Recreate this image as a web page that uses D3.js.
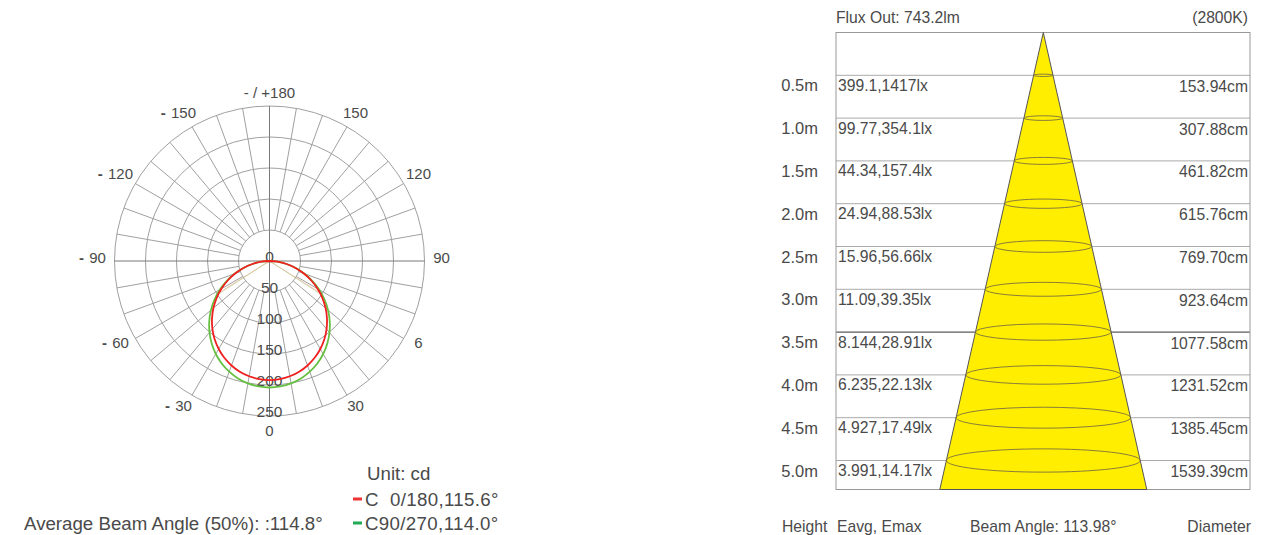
<!DOCTYPE html>
<html>
<head>
<meta charset="utf-8">
<script src="https://cdn.jsdelivr.net/npm/d3@7"></script>
<style>
  html, body { margin: 0; padding: 0; background: #fff; }
  svg { display: block; font-family: "Liberation Sans", Arial, Helvetica, sans-serif; }
  .pre { white-space: pre; }
</style>
</head>
<body>
<svg id="chart" width="1282" height="535"></svg>
<script>
// ---- Polar intensity data (cd), symmetric about 0° ----
const polarAngles = [0, 5, 10, 15, 20, 25, 30, 35, 40, 45, 50, 55, 60, 65, 70, 75, 80, 85, 90];
const c0Values  = [192, 191.2, 188.8, 184.8, 179.3, 172.3, 163.9, 154.2, 143.2, 131.1, 118.1, 104.2, 89.6, 74.4, 59.0, 43.4, 28.0, 13.1, 0];
const c90Values = [204, 203.1, 200.5, 196.1, 190.0, 182.4, 173.2, 162.5, 150.5, 137.4, 123.3, 108.3, 92.6, 76.4, 60.0, 43.7, 27.7, 12.6, 0];
const radialTicks = [0, 50, 100, 150, 200, 250];
const angleTickValues = [0, 30, 60, 90, 120, 150, 180, -150, -120, -90, -60, -30];
const angleTickLabels = ["0", "30", "6", "90", "120", "150", "- / +180", "150", "120", "90", "60", "30"];
const beamHalfAngles = [57.8, 57.0];     // half of 115.6° and 114.0°
const beamHalfValues = [96, 102];        // 50% of peak intensity
const seriesNames = ["C  0/180,115.6°", "C90/270,114.0°"];
const averageBeam = "Average Beam Angle (50%): :114.8°";

// ---- Illuminance cone data ----
const heights = [0.5, 1.0, 1.5, 2.0, 2.5, 3.0, 3.5, 4.0, 4.5, 5.0];
const heightLabels = ["0.5m", "1.0m", "1.5m", "2.0m", "2.5m", "3.0m", "3.5m", "4.0m", "4.5m", "5.0m"];
const eavg = ["399.1", "99.77", "44.34", "24.94", "15.96", "11.09", "8.144", "6.235", "4.927", "3.991"];
const emax = ["1417", "354.1", "157.4", "88.53", "56.66", "39.35", "28.91", "22.13", "17.49", "14.17"];
const diameters = ["153.94", "307.88", "461.82", "615.76", "769.70", "923.64", "1077.58", "1231.52", "1385.45", "1539.39"];
const fluxLabel = "Flux Out: 743.2lm";
const cctLabel = "(2800K)";
const beamAngleLabel = "Beam Angle: 113.98°";

const svg = d3.select("#chart");
const textColor = "#4a4a4a";
const gridColor = "#a0a0a0";

// ================= Polar diagram =================
const cx = 269.5, cy = 261;
const r = d3.scaleLinear().domain([0, 250]).range([0, 155]);
// 0° points down, positive angles run counter-clockwise on screen
const toRad = deg => Math.PI - deg * Math.PI / 180;
const pt = (deg, rad) => [cx + rad * Math.sin(toRad(deg)), cy - rad * Math.cos(toRad(deg))];

const polar = svg.append("g");
const grid = polar.append("g").attr("fill", "none");

// rings
grid.selectAll("circle.ring")
  .data(radialTicks.filter(v => v > 0))
  .join("circle")
  .attr("cx", cx).attr("cy", cy)
  .attr("r", d => r(d))
  .attr("stroke", gridColor).attr("stroke-width", 1);

// spokes every 10°
const spokeAngles = d3.range(-170, 190, 10);
grid.selectAll("line.spoke")
  .data(spokeAngles.filter(a => a % 90 !== 0))
  .join("line")
  .attr("x1", d => pt(d, r(50))[0]).attr("y1", d => pt(d, r(50))[1])
  .attr("x2", d => pt(d, r(250))[0]).attr("y2", d => pt(d, r(250))[1])
  .attr("stroke", gridColor).attr("stroke-width", 1);

// main axes through the centre
grid.selectAll("line.axis")
  .data([0, 90])
  .join("line")
  .attr("x1", d => pt(d, r(250))[0]).attr("y1", d => pt(d, r(250))[1])
  .attr("x2", d => pt(d + 180, r(250))[0]).attr("y2", d => pt(d + 180, r(250))[1])
  .attr("stroke", "#7a7a7a").attr("stroke-width", 1);

// angle labels: the number is centred on its position, negatives get a "- " prefix
const labelPos = d => {
  const a = toRad(d);
  return [cx + 172 * Math.sin(a), cy - 169 * Math.cos(a) - 3.5 * Math.abs(Math.sin(a))];
};
const angLabels = polar.selectAll("g.ang")
  .data(angleTickValues)
  .join("g")
  .attr("transform", d => { const p = labelPos(d); return `translate(${p[0]},${p[1]})`; });
angLabels.append("text")
  .attr("text-anchor", "middle")
  .attr("dominant-baseline", "central")
  .attr("font-size", 15)
  .attr("fill", textColor)
  .text((d, i) => angleTickLabels[i])
  .each(function (d) {
    if (d < 0 && d !== -180) {
      const w = this.getComputedTextLength();
      d3.select(this.parentNode).append("text")
        .attr("class", "pre")
        .attr("x", -w / 2 - 1)
        .attr("text-anchor", "end")
        .attr("dominant-baseline", "central")
        .attr("font-size", 15)
        .attr("font-weight", "bold")
        .attr("fill", textColor)
        .text("- ");
    }
  });

// radial labels
polar.selectAll("text.rad")
  .data(radialTicks)
  .join("text")
  .attr("x", cx)
  .attr("y", d => cy + r(d) - 5)
  .attr("text-anchor", "middle")
  .attr("dominant-baseline", "central")
  .attr("font-size", 15.5)
  .attr("fill", textColor)
  .text(d => d);

// beam angle guide lines (50% intensity)
const beamColors = ["rgba(235,120,70,0.45)", "rgba(150,200,120,0.45)"];
beamHalfAngles.forEach((a, i) => {
  [a, -a].forEach(ang => {
    const p = pt(ang, r(beamHalfValues[i]));
    polar.append("line")
      .attr("x1", cx).attr("y1", cy)
      .attr("x2", p[0]).attr("y2", p[1])
      .attr("stroke", beamColors[i]).attr("stroke-width", 1);
  });
});

// intensity curves, mirrored for the negative half
function mirrored(values) {
  const pts = [];
  for (let i = polarAngles.length - 1; i > 0; i--) pts.push([-polarAngles[i], values[i]]);
  for (let i = 0; i < polarAngles.length; i++) pts.push([polarAngles[i], values[i]]);
  return pts;
}
const radialLine = d3.lineRadial()
  .angle(d => toRad(d[0]))
  .radius(d => r(d[1]))
  .curve(d3.curveCatmullRom);

const curveColors = ["#f02020", "#66c040"];
[c90Values, c0Values].forEach((vals, k) => {
  polar.append("path")
    .attr("transform", `translate(${cx},${cy})`)
    .attr("d", radialLine(mirrored(vals)))
    .attr("fill", "none")
    .attr("stroke", k === 0 ? curveColors[1] : curveColors[0])
    .attr("stroke-width", 1.8);
});

// legend
const legend = svg.append("g").attr("font-size", 18.7).attr("fill", textColor);
legend.append("text").attr("x", 367).attr("y", 479.5).text("Unit: cd");
const legendColors = ["#ee3333", "#22aa55"];
seriesNames.forEach((name, i) => {
  const y = 499 + i * 24;
  legend.append("rect").attr("x", 353).attr("y", y - 1.5).attr("width", 9).attr("height", 3)
    .attr("fill", legendColors[i]);
  legend.append("text").attr("class", "pre").attr("x", 365).attr("y", y + 6.5)
    .attr("letter-spacing", 0.35).text(name);
});
legend.append("text").attr("x", 24).attr("y", 529.5).text(averageBeam);

// ================= Illuminance cone =================
const boxL = 836, boxR = 1250, boxT = 32.5, boxB = 489.5;
const apexX = 1043.3;
const y = d3.scaleLinear().domain([0, 5]).range([boxT, 460.5]);
const halfW = d3.scaleLinear().domain([0, y.invert(boxB)]).range([0, 103.5]);
const bottomDepth = y.invert(boxB);

const cone = svg.append("g");

// row separators
cone.selectAll("line.row")
  .data(heights)
  .join("line")
  .attr("x1", boxL).attr("x2", boxR)
  .attr("y1", d => y(d)).attr("y2", d => y(d))
  .attr("stroke", d => d === 3.5 ? "#333" : "#aaa")
  .attr("stroke-width", 1);

// frame
cone.append("rect")
  .attr("x", boxL).attr("y", boxT)
  .attr("width", boxR - boxL).attr("height", boxB - boxT)
  .attr("fill", "none").attr("stroke", "#999").attr("stroke-width", 1);

// beam triangle
cone.append("path")
  .attr("d", d3.line()([
    [apexX, y(0)],
    [apexX + halfW(bottomDepth), y(bottomDepth)],
    [apexX - halfW(bottomDepth), y(bottomDepth)]
  ]) + "Z")
  .attr("fill", "#ffee00")
  .attr("stroke", "#555").attr("stroke-width", 1);

// cross-section ellipses
cone.selectAll("ellipse")
  .data(heights)
  .join("ellipse")
  .attr("cx", apexX).attr("cy", d => y(d))
  .attr("rx", d => halfW(d))
  .attr("ry", d => halfW(d) * 0.12)
  .attr("fill", "none")
  .attr("stroke", "#7a7040").attr("stroke-width", 0.9);

// row labels
const labels = svg.append("g").attr("font-size", 15.7).attr("fill", textColor);
labels.selectAll("text.h")
  .data(heights)
  .join("text")
  .attr("x", 818).attr("y", d => y(d) + 16)
  .attr("font-size", 16.5)
  .attr("text-anchor", "end")
  .text((d, i) => heightLabels[i]);
labels.selectAll("text.e")
  .data(heights)
  .join("text")
  .attr("x", 838).attr("y", d => y(d) + 15.5)
  .text((d, i) => `${eavg[i]},${emax[i]}lx`);
labels.selectAll("text.d")
  .data(heights)
  .join("text")
  .attr("x", 1248).attr("y", d => y(d) + 16.5)
  .attr("text-anchor", "end")
  .text((d, i) => `${diameters[i]}cm`);

labels.append("text").attr("x", 836).attr("y", 22.5).text(fluxLabel);
labels.append("text").attr("x", 1248).attr("y", 22.5).attr("text-anchor", "end").text(cctLabel);
labels.append("text").attr("x", 782).attr("y", 531.5).text("Height");
labels.append("text").attr("x", 837).attr("y", 531.5).text("Eavg, Emax");
labels.append("text").attr("x", 970).attr("y", 531.5).text(beamAngleLabel);
labels.append("text").attr("x", 1251).attr("y", 531.5).attr("text-anchor", "end").text("Diameter");
</script>
</body>
</html>
